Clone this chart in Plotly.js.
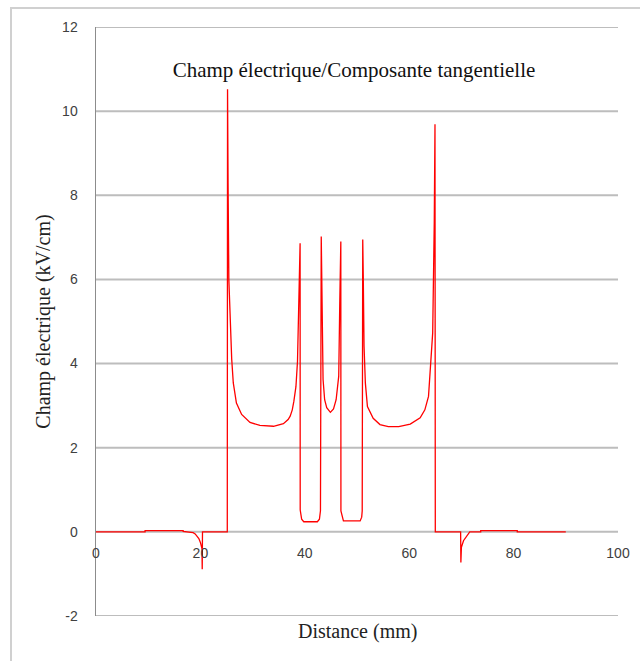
<!DOCTYPE html>
<html>
<head>
<meta charset="utf-8">
<script src="https://cdn.plot.ly/plotly-3.0.1.min.js"></script>
<style>
html,body{margin:0;padding:0;background:#fff;}
#wrap{position:relative;width:640px;height:661px;}
#chart{position:absolute;left:0;top:0;width:640px;height:661px;}
#frame{position:absolute;left:10px;top:7px;width:640px;height:660px;border-top:2px solid #d0d0d0;border-left:2px solid #d0d0d0;pointer-events:none;}
</style>
</head>
<body>
<div id="wrap"><div id="chart"></div><div id="frame"></div></div>
<script>
// Distance (mm)
const distance = [0, 9.4, 9.4, 16.7, 16.7, 17.9, 18.6, 19.0, 19.4, 19.7, 20.0, 20.3, 20.35, 20.4,
  25.15, 25.2, 25.3, 25.45, 25.67, 26.0, 26.3, 26.9, 27.9, 29.5, 31.4, 34.0, 35.9, 36.8, 37.2, 37.6, 37.9, 38.3, 38.6, 38.9, 39.1,
  39.12, 39.4, 39.8, 42.4, 42.8, 43.0, 43.15, 43.25, 43.35, 43.5, 43.8, 44.2, 44.9, 45.5, 46.0, 46.5, 46.7, 46.9,
  46.92, 47.4, 50.6, 50.9, 51.0, 51.1, 51.2, 51.35, 51.6, 52.0, 53.1, 54.4, 56, 58, 60.2, 62.1, 63.0, 63.7, 64.2, 64.5, 64.8, 64.94,
  65.0, 69.85, 69.9, 70.0, 70.4, 71.0, 71.6, 73.7, 73.7, 80.7, 80.7, 90];
// Champ électrique (kV/cm)
const champ = [0, 0, 0.03, 0.03, 0.01, 0, -0.02, -0.05, -0.1, -0.16, -0.25, -0.4, -0.89, 0,
  0, 10.52, 8.3, 6.0, 5.05, 4.1, 3.54, 3.06, 2.79, 2.6, 2.53, 2.51, 2.57, 2.67, 2.75, 2.9, 3.1, 3.45, 4.05, 5.64, 6.86,
  0.52, 0.3, 0.24, 0.24, 0.3, 0.5, 7.02, 5.84, 4.25, 3.62, 3.14, 2.95, 2.84, 2.92, 3.14, 3.7, 5.44, 6.9,
  0.5, 0.26, 0.26, 0.35, 0.5, 6.95, 6.08, 4.41, 3.54, 2.98, 2.7, 2.55, 2.5, 2.5, 2.56, 2.71, 2.9, 3.22, 4.02, 4.73, 7.35, 9.69,
  0, 0, -0.73, -0.37, -0.21, -0.1, 0, 0, 0.03, 0.03, 0, 0];

const titleText = 'Champ électrique/Composante tangentielle';
const xTitle = 'Distance (mm)';
const yTitle = 'Champ électrique (kV/cm)';
const xTicks = [0, 20, 40, 60, 80, 100];
const yTicks = [-2, 0, 2, 4, 6, 8, 10, 12];

const trace = {
  x: distance, y: champ, type: 'scatter', mode: 'lines',
  line: {color: '#ff0000', width: 1.3}, hoverinfo: 'skip', showlegend: false
};

const serif = '"Liberation Serif", "DejaVu Serif", serif';
const gridShapes = yTicks.map(v => ({
  type: 'line', xref: 'paper', x0: 0, x1: 1, yref: 'y', y0: v, y1: v,
  line: {color: '#bdbdbd', width: 2}, layer: 'below'
}));

const layout = {
  width: 640, height: 661,
  margin: {l: 96, r: 22, t: 27, b: 45},
  paper_bgcolor: '#ffffff', plot_bgcolor: '#ffffff',
  title: {text: titleText, font: {family: serif, size: 21, color: '#111'},
          x: 354/640, xref: 'container', xanchor: 'center', y: 1 - 70/661, yref: 'container', yanchor: 'middle'},
  xaxis: {range: [0, 100], tickvals: xTicks, ticktext: xTicks.map(String),
          anchor: 'free', position: 1/7, showgrid: false, zeroline: false,
          showline: false,
          ticks: 'outside', ticklen: 8, tickcolor: 'rgba(0,0,0,0)',
          tickfont: {family: '"Liberation Sans", Arial, sans-serif', size: 14, color: '#404040'}},
  yaxis: {range: [-2, 12], tickvals: yTicks, ticktext: yTicks.map(String),
          showgrid: false, zeroline: false,
          showline: true, linecolor: '#8c8c8c', linewidth: 1.5,
          ticks: 'outside', ticklen: 14, tickcolor: 'rgba(0,0,0,0)',
          tickfont: {family: '"Liberation Sans", Arial, sans-serif', size: 14, color: '#404040'},
          title: {text: yTitle, font: {family: serif, size: 20, color: '#222'}, standoff: 6}},
  shapes: gridShapes,
  annotations: [{text: xTitle, xref: 'paper', yref: 'paper', x: (357 - 96)/522, y: -15/589,
                 xanchor: 'center', yanchor: 'middle', showarrow: false,
                 font: {family: serif, size: 20, color: '#222'}}]
};
Plotly.newPlot('chart', [trace], layout, {displayModeBar: false, staticPlot: true});
</script>
</body>
</html>
